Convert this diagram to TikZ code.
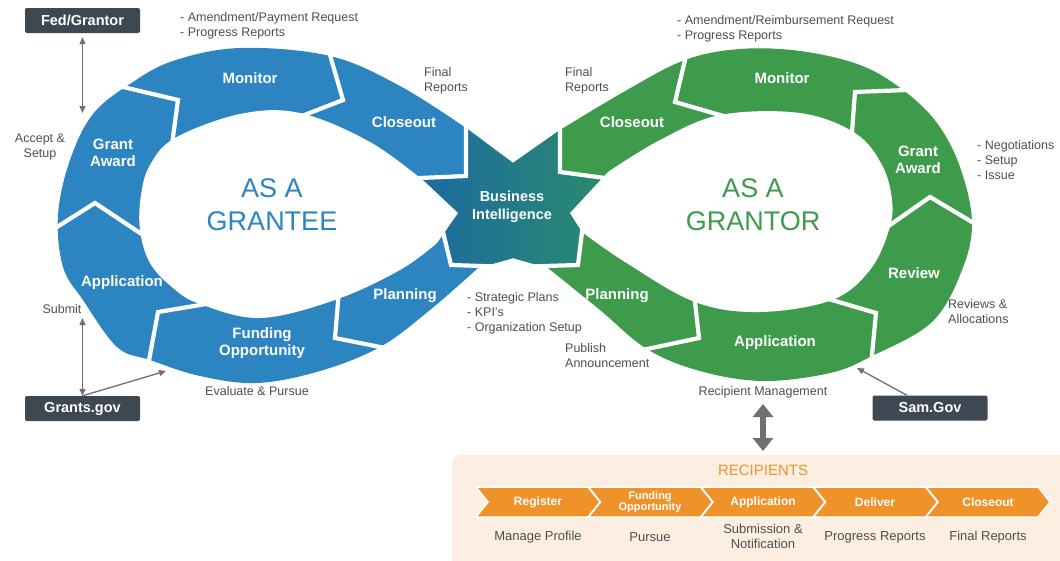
\documentclass[tikz,border=0pt]{standalone}
\usepackage{fontspec}
\setmainfont{Liberation Sans}
\usetikzlibrary{arrows.meta, calc, positioning}
\definecolor{granteeBlue}{RGB}{44,132,192}
\definecolor{grantorGreen}{RGB}{62,155,75}
\definecolor{biLeft}{RGB}{28,104,164}
\definecolor{biRight}{RGB}{42,140,108}
\definecolor{noteGray}{RGB}{78,78,78}
\definecolor{portalGray}{RGB}{62,72,82}
\definecolor{arrowGray}{RGB}{112,112,112}
\definecolor{chevOrange}{RGB}{240,146,42}
\definecolor{panelPeach}{RGB}{252,239,226}

% outline of the figure-eight and its two holes
\newcommand\eightOutline{(513,163) -- plot[smooth, tension=0.6] coordinates {(466,128) (400,86) (330,56) (240,48) (173,61) (130,84) (93,114) (70,160) (58,215) (63,267) (83,300) (117,347) (150,360) (200,376) (257,383) (320,371) (380,347) (430,310) (478,268)} -- (513,258) -- plot[smooth, tension=0.6] coordinates {(548,268) (600,310) (647,349) (700,371) (763,381) (830,373) (872,356) (932,322) (962,270) (972,222) (960,167) (937,123) (903,90) (860,65) (800,51) (740,49) (685,60) (627,90) (560,130)} -- cycle}
\newcommand\granteeHole{(458,213) -- plot[smooth, tension=0.6] coordinates {(437,243) (400,270) (335,300) (260,318) (200,304) (173,288) (150,263) (140,230) (141,195) (150,165) (175,138) (240,114) (300,113) (370,142) (425,182)} -- cycle}
\newcommand\grantorHole{(570,213) -- plot[smooth, tension=0.6] coordinates {(582,232) (625,262) (695,302) (760,312) (832,300) (870,270) (889,230) (892,200) (882,165) (855,133) (800,113) (720,115) (660,140) (608,172)} -- cycle}

\tikzset{
  stage/.style={text=white, font=\bfseries\fontsize{15}{17}\selectfont, align=center},
  note/.style={text=noteGray, font=\fontsize{12.5}{15}\selectfont, align=left, inner sep=0pt},
  bigtitle/.style={font=\fontsize{27}{33}\selectfont, align=center},
  portal/.style={fill=portalGray, text=white, font=\bfseries\fontsize{14.5}{16}\selectfont, minimum width=115pt, minimum height=25pt, rounded corners=2pt, inner sep=0pt},
  cutline/.style={white, line width=4.2pt, line join=miter},
  linkarrow/.style={arrowGray, line width=1.3pt},
  fatarrow/.style={arrowGray, line width=6pt, {Triangle[length=13pt,width=20pt]}-{Triangle[length=13pt,width=20pt]}},
  chevron/.style={fill=chevOrange, draw=white, line width=1.5pt, line join=miter},
  chevtext/.style={text=white, font=\bfseries\fontsize{12}{11}\selectfont, align=center},
  subnote/.style={text=noteGray, font=\fontsize{13}{15}\selectfont, align=center}
}

\begin{document}
\begin{tikzpicture}[x=1pt, y=-1pt]
    \useasboundingbox (0,0) rectangle (1060,560);

    % Bands
    \begin{scope}
        \clip \eightOutline;
        \fill[granteeBlue] (0,0) rectangle (513,560);
        \fill[grantorGreen] (513,0) rectangle (1060,560);
        \shade[left color=biLeft, right color=biRight] (466,100) -- (466,176) -- (412,178) -- (438,205) -- (443,232) -- (451,265) -- (484,266) -- (488,300) -- (540,300) -- (543,266) -- (578,265) -- (584,232) -- (590,205) -- (612,178) -- (560,172) -- (560,100) -- cycle;
    \end{scope}
    \fill[white] \granteeHole;
    \fill[white] \grantorHole;

    % Cuts between the stages
    \foreach \ox/\oy/\tx/\ty/\ix/\iy in {466/128/466/176/420/178, 330/55/343/100/307/114, 123/87/178/100/173/137, 57/227/95/203/140/233, 150/355/158/312/200/305, 380/347/335/338/338/302, 482/266/451/265/443/232, 545/266/578/265/582/232, 647/349/699/338/695/302, 872/355/876/313/832/300, 972/222/930/197/890/225, 907/90/855/92/852/132, 685/60/675/102/720/115, 560/128/560/172/605/178}
        \draw[cutline] ($(\tx,\ty)!1.3!(\ox,\oy)$) -- (\tx,\ty) -- ($(\tx,\ty)!1.3!(\ix,\iy)$);

    % Stages
    \node[stage] (gAward) at (113,153) {Grant\\Award};
    \node[stage] (gMonitor) at (250,78) {Monitor};
    \node[stage] (gClose) at (404,122) {Closeout};
    \node[stage] (gApp) at (122,283) {Application};
    \node[stage] (gFund) at (262,343) {Funding\\Opportunity};
    \node[stage] (gPlan) at (405,296) {Planning};
    \node[stage, font=\bfseries\fontsize{14.5}{18}\selectfont] (bi) at (512,207) {Business\\Intelligence};
    \node[stage] (rClose) at (632,122) {Closeout};
    \node[stage] (rMonitor) at (782,78) {Monitor};
    \node[stage] (rAward) at (918,160) {Grant\\Award};
    \node[stage] (rReview) at (914,273) {Review};
    \node[stage] (rApp) at (775,343) {Application};
    \node[stage] (rPlan) at (617,296) {Planning};

    \node[bigtitle, text=granteeBlue] (grantee) at (272,205) {AS A\\GRANTEE};
    \node[bigtitle, text=grantorGreen] (grantor) at (753,205) {AS A\\GRANTOR};

    % Notes
    \node[note, anchor=west] (nPay) at (180,26) {- Amendment/Payment Request\\- Progress Reports};
    \node[note, anchor=west] (nFinalL) at (424,81) {Final\\Reports};
    \node[note, align=center] (nAccept) at (40,147) {Accept \&\\Setup};
    \node[note] (nSubmit) at (62,309) {Submit};
    \node[note] (nEval) at (257,391) {Evaluate \& Pursue};
    \node[note, anchor=west] (nPlans) at (467,313) {- Strategic Plans\\- KPI's\\- Organization Setup};
    \node[note, anchor=west] (nPublish) at (565,356) {Publish\\Announcement};
    \node[note] (nRecip) at (763,392) {Recipient Management};
    \node[note, anchor=west] (nReimb) at (677,29) {- Amendment/Reimbursement Request\\- Progress Reports};
    \node[note, anchor=west] (nFinalR) at (565,81) {Final\\Reports};
    \node[note, anchor=west] (nNego) at (977,160) {- Negotiations\\- Setup\\- Issue};
    \node[note, anchor=west] (nAlloc) at (948,312) {Reviews \&\\Allocations};

    % Portals
    \node[portal] (fed) at (82.5,20.5) {Fed/Grantor};
    \node[portal] (grants) at (82.5,408.5) {Grants.gov};
    \node[portal] (sam) at (930,408) {Sam.Gov};

    % Arrows
    \coordinate (fedEnd) at (82.5,113);
    \coordinate (submitEnd) at (82.5,318);
    \coordinate (fundIn) at (166,371);
    \coordinate (samIn) at (857,368);
    \coordinate (rmTop) at (763,404);
    \coordinate (rmBot) at (763,451);
    \draw[linkarrow, {Triangle[length=7pt,width=6pt]}-{Triangle[length=7pt,width=6pt]}] ([yshift=-4pt]fed.south) -- (fedEnd);
    \draw[linkarrow, {Triangle[length=7pt,width=6pt]}-{Triangle[length=7pt,width=6pt]}] (grants.north) -- (submitEnd);
    \draw[linkarrow, -{Triangle[length=7pt,width=6pt]}] (grants.north) -- (fundIn);
    \draw[linkarrow, -{Triangle[length=7pt,width=6pt]}] ([xshift=-23pt]sam.north) -- (samIn);
    \draw[fatarrow] (rmTop) -- (rmBot);

    % Recipients
    \fill[panelPeach, rounded corners=8pt] (452,455) rectangle (1075,575);
    \node[text=chevOrange, font=\fontsize{15}{17}\selectfont] (recip) at (763,470) {RECIPIENTS};
    \foreach \k in {0,...,4}
        \filldraw[chevron] ({476+112.5*\k},487) -- ++(112,0) -- ++(12,15) -- ++(-12,15) -- ++(-112,0) -- ++(12,-15) -- cycle;
    \node[chevtext] (cReg) at (538,502) {Register};
    \node[chevtext, font=\bfseries\fontsize{11}{10}\selectfont] (cFund) at (650,502) {Funding\\Opportunity};
    \node[chevtext] (cApp) at (763,502) {Application};
    \node[chevtext] (cDel) at (875,502) {Deliver};
    \node[chevtext] (cClose) at (988,502) {Closeout};
    \node[subnote] (sReg) at (538,537) {Manage Profile};
    \node[subnote] (sFund) at (650,537) {Pursue};
    \node[subnote] (sApp) at (763,536) {Submission \&\\Notification};
    \node[subnote] (sDel) at (875,537) {Progress Reports};
    \node[subnote] (sClose) at (988,537) {Final Reports};
\end{tikzpicture}
\end{document}
